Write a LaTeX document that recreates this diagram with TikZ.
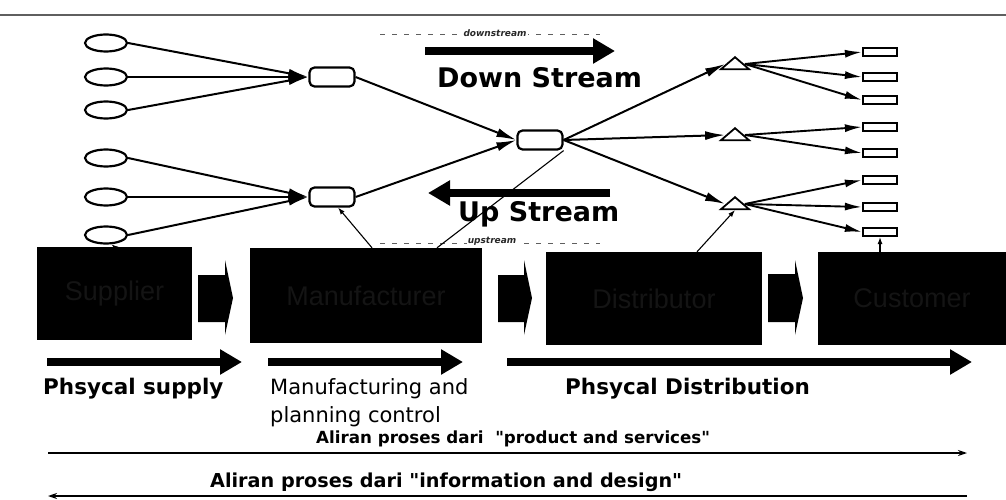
\documentclass[tikz,border=0pt]{standalone}
\usepackage{fontspec}
\setmainfont{DejaVu Sans}[Ligatures=TeXOff]
\newfontfamily\lbl{Liberation Sans}
\usetikzlibrary{arrows.meta,shapes.geometric}
\definecolor{dimtext}{RGB}{20,20,20}
\definecolor{smalltext}{RGB}{40,40,40}
\definecolor{rulegray}{RGB}{95,95,95}
\begin{document}
\begin{tikzpicture}[x=1pt,y=-1pt,
  oval/.style={ellipse,draw,line width=2.2pt,minimum width=42pt,minimum height=17pt,inner sep=0pt},
  hub/.style={draw,rounded corners=5pt,line width=2.2pt,minimum width=45pt,minimum height=19pt,inner sep=0pt},
  tri/.style={isosceles triangle,isosceles triangle stretches,shape border rotate=90,draw,line width=1.8pt,minimum width=28pt,minimum height=12pt,inner sep=0pt},
  leaf/.style={draw,line width=2.2pt,minimum width=34pt,minimum height=8pt,inner sep=0pt},
  fan/.style={line width=2pt,-{Latex[length=20pt,width=9pt]}},
  fan2/.style={line width=1.9pt,-{Latex[length=17pt,width=8pt]}},
  thinarr/.style={line width=1.1pt,-{Latex[length=7pt,width=5pt]}},
  thinline/.style={line width=1.1pt},
  entity/.style={fill=black,text=dimtext,font=\lbl\fontsize{27}{30}\selectfont,inner sep=0pt},
  blockarrow/.style={fill=black},
  bigarrow/.style={line width=8pt,-{Triangle[length=22pt,width=24pt]}},
  flowline/.style={line width=1.8pt,-{Stealth[length=9pt,width=6pt]}},
  guide/.style={dash pattern=on 5pt off 7pt,line width=0.8pt,rulegray},
  tinytext/.style={fill=white,inner sep=1pt,font=\bfseries\itshape\fontsize{9}{10}\selectfont,text=smalltext},
]
\useasboundingbox (0,0) rectangle (1006,500);

% top rule
\coordinate (r0) at (0,15);
\coordinate (r1) at (1006,15);
\draw[line width=1.2pt,rulegray] (r0) -- (r1);

% sources
\node[oval] (o1) at (106,43) {};
\node[oval] (o2) at (106,77) {};
\node[oval] (o3) at (106,110) {};
\node[oval] (o4) at (106,158) {};
\node[oval] (o5) at (106,197) {};
\node[oval] (o6) at (106,235) {};

% manufacturers
\node[hub] (h1) at (332,77) {};
\node[hub] (h2) at (332,197) {};
\node[hub] (c) at (540,140) {};

% distributors
\node[tri] (t1) at (735,64) {};
\node[tri] (t2) at (735,135) {};
\node[tri] (t3) at (735,204) {};

% customers
\node[leaf] (l1) at (880,52) {};
\node[leaf] (l2) at (880,77) {};
\node[leaf] (l3) at (880,100) {};
\node[leaf] (l4) at (880,127) {};
\node[leaf] (l5) at (880,153) {};
\node[leaf] (l6) at (880,180) {};
\node[leaf] (l7) at (880,207) {};
\node[leaf] (l8) at (880,232) {};

% fan connectors
\foreach \o in {o1,o2,o3} \draw[fan] (\o.east) -- (h1.west);
\foreach \o in {o4,o5,o6} \draw[fan] (\o.east) -- (h2.west);
\draw[fan] (h1.east) -- (c.west);
\draw[fan] (h2.east) -- (c.west);
\draw[fan] (c.east) -- (t1.west);
\draw[fan] (c.east) -- (t2.west);
\draw[fan] (c.east) -- (t3.west);
\foreach \l in {l1,l2,l3} \draw[fan2] (t1.east) -- (\l.west);
\foreach \l in {l4,l5} \draw[fan2] (t2.east) -- (\l.west);
\foreach \l in {l6,l7,l8} \draw[fan2] (t3.east) -- (\l.west);

% stream arrows and texts
\coordinate (dsA) at (425,51);
\coordinate (dsB) at (615,51);
\draw[bigarrow] (dsA) -- (dsB);
\node[anchor=base west,font=\bfseries\fontsize{27}{30}\selectfont,inner sep=0pt] (dstext) at (437,88) {Down Stream};
\coordinate (dl0) at (380,34);
\coordinate (dl1) at (600,34);
\draw[guide] (dl0) -- (dl1);
\node[tinytext] (dsmall) at (495,33) {downstream};

\coordinate (usA) at (610,193);
\coordinate (usB) at (428,193);
\draw[bigarrow] (usA) -- (usB);
\node[anchor=base west,font=\bfseries\fontsize{27}{30}\selectfont,inner sep=0pt] (ustext) at (458,221) {Up Stream};
\coordinate (ul0) at (380,243);
\coordinate (ul1) at (600,243);
\draw[guide] (ul0) -- (ul1);
\node[tinytext] (usmall) at (492,241) {upstream};

% entity boxes
\node[entity,minimum width=155pt,minimum height=93pt] (sup) at (114.5,293.5) {Supplier};
\node[entity,minimum width=232pt,minimum height=95pt] (man) at (366,295.5) {Manufacturer};
\node[entity,minimum width=216pt,minimum height=93pt] (dist) at (654,298.5) {Distributor};
\node[entity,minimum width=188pt,minimum height=93pt] (cust) at (912,298.5) {Customer};

% block arrows between boxes
\fill[blockarrow] (198,275) -- (225,275) -- (225,260) -- (233,298) -- (225,335) -- (225,322) -- (198,322) -- cycle;
\fill[blockarrow] (498,275) -- (524,275) -- (524,260) -- (532,298) -- (524,335) -- (524,322) -- (498,322) -- cycle;
\fill[blockarrow] (768,274) -- (795,274) -- (795,260) -- (803,298) -- (795,335) -- (795,322) -- (768,322) -- cycle;

% links from boxes up to the network
\draw[thinarr] (sup.north) -- (o6.-60);
\draw[thinarr] ([xshift=6pt]man.north) -- (h2.-60);
\draw[thinline] ([xshift=71pt]man.north) -- (c.south east);
\draw[thinarr] ([xshift=43pt]dist.north) -- (t3.south);
\draw[thinarr] (cust.north -| l8.south) -- (l8.south);

% physical flow arrows
\coordinate (p1a) at (47,362);  \coordinate (p1b) at (242,362);
\coordinate (p2a) at (268,362); \coordinate (p2b) at (463,362);
\coordinate (p3a) at (507,362); \coordinate (p3b) at (972,362);
\draw[bigarrow] (p1a) -- (p1b);
\draw[bigarrow] (p2a) -- (p2b);
\draw[bigarrow] (p3a) -- (p3b);

\node[anchor=base west,inner sep=0pt,font=\bfseries\fontsize{21.5}{24}\selectfont] (lab1) at (43,394) {Phsycal supply};
\node[anchor=base west,inner sep=0pt,font=\fontsize{21}{24}\selectfont] (lab2a) at (270,394) {Manufacturing and};
\node[anchor=base west,inner sep=0pt,font=\fontsize{21}{24}\selectfont] (lab2b) at (270,422) {planning control};
\node[anchor=base west,inner sep=0pt,font=\bfseries\fontsize{21.5}{24}\selectfont] (lab3) at (565,394) {Phsycal Distribution};

% process flow lines
\node[anchor=base west,inner sep=0pt,font=\bfseries\fontsize{16.7}{19}\selectfont] (prodtext) at (316,443) {Aliran proses dari\ \ "product and services"};
\coordinate (pl0) at (48,453);
\coordinate (pl1) at (967,453);
\draw[flowline] (pl0) -- (pl1);

\node[anchor=base west,inner sep=0pt,font=\bfseries\fontsize{19.2}{22}\selectfont] (infotext) at (210,487) {Aliran proses dari "information and design"};
\coordinate (il0) at (967,496);
\coordinate (il1) at (48,496);
\draw[flowline] (il0) -- (il1);
\end{tikzpicture}
\end{document}
